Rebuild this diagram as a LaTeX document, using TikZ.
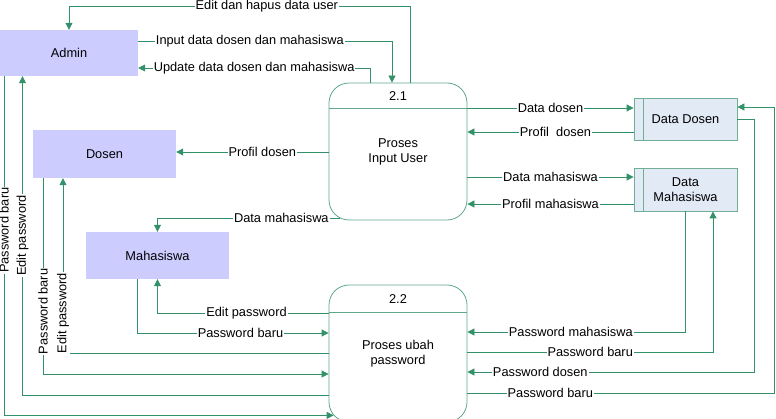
\documentclass[tikz,border=0pt]{standalone}
\usepackage{fontspec}
\setmainfont{Liberation Sans}
\usetikzlibrary{arrows.meta}
\definecolor{flowgreen}{RGB}{50,145,105}
\definecolor{procgreen}{RGB}{95,168,138}
\definecolor{storegreen}{RGB}{110,175,150}
\definecolor{entityblue}{RGB}{204,204,255}
\definecolor{storeblue}{RGB}{226,234,246}
\tikzset{
	entity/.style={fill=entityblue, minimum width=143pt, minimum height=47pt, inner sep=0pt},
	proc/.style={draw=procgreen, line width=0.8pt, rounded corners=20pt, minimum width=138pt, minimum height=137pt, align=center},
	store/.style={draw=storegreen, fill=storeblue, line width=0.8pt, minimum width=103pt, minimum height=42pt, align=center},
	flow/.style={draw=flowgreen, line width=0.8pt, -{Triangle[length=7pt,width=7pt]}},
	lbl/.style={fill=white, inner sep=1pt, text=black}
}

\begin{document}
\begin{tikzpicture}[x=1pt, y=1pt, font=\fontsize{12.8}{15}\selectfont]
		%%%%% START %%%%%
		\useasboundingbox (0,0) rectangle (776,418);
		
		\node[entity, minimum width=138pt, minimum height=46pt] (admin) at (69,365) {Admin};
		\node[entity, minimum height=48pt] (dosen) at (104.5,264) {Dosen};
		\node[entity] (mhs) at (157.5,162.5) {Mahasiswa};
		
		\node[proc] (p21) at (398,266.5) {Proses\\Input User};
		\draw[procgreen, line width=0.8pt] ([yshift=-26pt]p21.north west) -- ([yshift=-26pt]p21.north east);
		\node (n21) at ([yshift=-13pt]p21.north) {2.1};
		
		\node[proc] (p22) at (398,64.5) {Proses ubah\\password};
		\draw[procgreen, line width=0.8pt] ([yshift=-28pt]p22.north west) -- ([yshift=-28pt]p22.north east);
		\node (n22) at ([yshift=-14pt]p22.north) {2.2};
		
		\node[store] (ddosen) at (685.5,299) {Data Dosen};
		\draw[storegreen, line width=0.8pt] ([xshift=10pt]ddosen.north west) -- ([xshift=10pt]ddosen.south west);
		\node[store, minimum height=43pt] (dmhs) at (685.5,228.5) {Data\\Mahasiswa};
		\draw[storegreen, line width=0.8pt] ([xshift=10pt]dmhs.north west) -- ([xshift=10pt]dmhs.south west);
		
		% admin <-> proses input user
		\draw[flow] ([xshift=12pt]p21.north) -- ++(0,76) -| node[lbl, pos=0.21] {Edit dan hapus data user} (admin.north);
		\draw[flow] ([yshift=11.5pt]admin.east) -| node[lbl, pos=0.22] {Input data dosen dan mahasiswa} ([xshift=-6pt]p21.north);
		\draw[flow] ([xshift=-28pt]p21.north) |- node[lbl, pos=0.75] {Update data dosen dan mahasiswa} ([yshift=-15pt]admin.east);
		
		% proses input user <-> data stores
		\draw[flow] ([yshift=43.5pt]p21.east) -- node[lbl, pos=0.5] {Data dosen} ([yshift=11pt]ddosen.west);
		\draw[flow] ([yshift=-13pt]ddosen.west) -- node[lbl, pos=0.47] {Profil~~dosen} ([yshift=19.5pt]p21.east);
		\draw[flow] ([yshift=-25.5pt]p21.east) -- node[lbl, pos=0.5] {Data mahasiswa} ([yshift=12.5pt]dmhs.west);
		\draw[flow] ([yshift=-14.5pt]dmhs.west) -- node[lbl, pos=0.5] {Profil mahasiswa} ([yshift=-52.5pt]p21.east);
		
		% proses input user -> dosen, mahasiswa
		\draw[flow] ([yshift=-0.5pt]p21.west) -- node[lbl, pos=0.435] {Profil dosen} ([yshift=2pt]dosen.east);
		\draw[flow] ([xshift=11pt,yshift=2pt]p21.south west) -| node[lbl, pos=0.16] {Data mahasiswa} (mhs.north);
		
		% mahasiswa <-> proses ubah password
		\draw[flow] ([xshift=-20.5pt]mhs.south) |- node[lbl, pos=0.77] {Password baru} ([yshift=20.5pt]p22.west);
		\draw[flow] ([yshift=40.5pt]p22.west) -| node[lbl, pos=0.24] {Edit password} (mhs.south);
		
		% dosen <-> proses ubah password
		\draw[flow] (p22.west) -| node[lbl, rotate=90, pos=0.615] {Edit password} ([xshift=-41.5pt]dosen.south);
		\draw[flow] ([xshift=-61.5pt]dosen.south) |- node[lbl, rotate=90, pos=0.34] {Password baru} ([yshift=-20.5pt]p22.west);
		
		% admin <-> proses ubah password
		\draw[flow] ([yshift=-41.5pt]p22.west) -| node[lbl, rotate=90, pos=0.75] {Edit password} ([xshift=-46.5pt]admin.south);
		\draw[flow] ([xshift=-65pt]admin.south) |- node[lbl, rotate=90, pos=0.227] {Password baru} ([xshift=5pt,yshift=7pt]p22.south west);
		
		% data stores <-> proses ubah password
		\draw[flow] (dmhs.south) |- node[lbl, pos=0.763] {Password mahasiswa} ([yshift=21.5pt]p22.east);
		\draw[flow] ([yshift=1.5pt]p22.east) -| node[lbl, pos=0.25] {Password baru} ([xshift=27.5pt]dmhs.south);
		\draw[flow] (ddosen.east) -- ++(17,0) |- node[lbl, pos=0.873] {Password dosen} ([yshift=-18.5pt]p22.east);
		\draw[flow] ([yshift=-39.5pt]p22.east) -- node[lbl, pos=0.27] {Password baru} ++(307,0) |- ([yshift=12pt]ddosen.east);
		
		%%%%% END %%%%%
\end{tikzpicture}
\end{document}
